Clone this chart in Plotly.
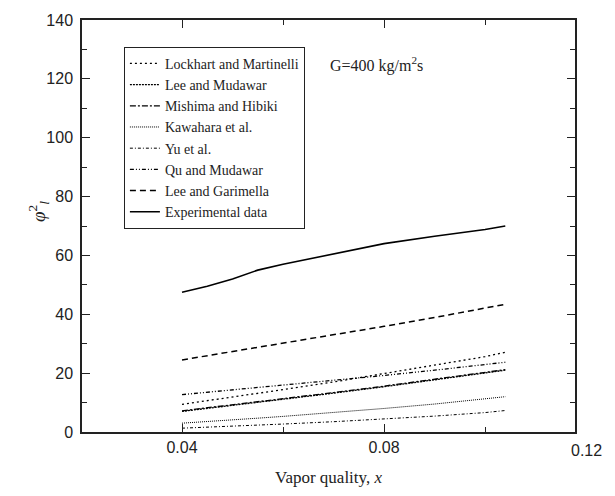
import plotly.graph_objects as go

x = [0.04, 0.045, 0.05, 0.055, 0.06, 0.07, 0.08, 0.09, 0.10, 0.104]

lockhart = [9.4, 10.6, 11.9, 13.1, 14.4, 17.0, 19.8, 22.6, 25.6, 27.1]
lee_mudawar = [7.0, 8.0, 9.0, 10.0, 11.0, 13.2, 15.4, 17.7, 20.0, 21.0]
mishima = [7.2, 8.2, 9.2, 10.2, 11.2, 13.4, 15.6, 17.9, 20.2, 21.2]
kawahara = [3.0, 3.5, 4.1, 4.7, 5.3, 6.6, 8.0, 9.5, 11.2, 12.0]
yu = [1.3, 1.6, 1.9, 2.3, 2.7, 3.5, 4.4, 5.4, 6.6, 7.3]
qu = [12.7, 13.5, 14.3, 15.1, 15.9, 17.5, 19.2, 21.0, 22.9, 23.7]
lee_garimella = [24.5, 25.9, 27.3, 28.7, 30.1, 33.0, 35.9, 38.9, 42.0, 43.4]
experimental = [47.5, 49.5, 52.0, 55.0, 57.0, 60.5, 64.0, 66.5, 68.8, 70.0]

names = ["Lockhart and Martinelli", "Lee and Mudawar", "Mishima and Hibiki",
         "Kawahara et al.", "Yu et al.", "Qu and Mudawar", "Lee and Garimella",
         "Experimental data"]
series = [lockhart, lee_mudawar, mishima, kawahara, yu, qu, lee_garimella, experimental]
dashes = ["2px,3px", "2px,1px", "6px,2px,2px,2px", "1px,1px",
          "3px,2px,1px,2px", "4px,2px,1px,2px,1px,2px", "6px,4px", "solid"]
widths = [1.3, 1.3, 1.3, 1.0, 1.0, 1.3, 1.5, 1.6]

xticks = [0.04, 0.08]
yticks = [0, 20, 40, 60, 80, 100, 120, 140]

fig = go.Figure()
for n, s, d, w in zip(names, series, dashes, widths):
    fig.add_trace(go.Scatter(x=x, y=s, mode="lines", name=n,
                             line=dict(color="black", width=w, dash=d)))

axis_common = dict(showline=True, linecolor="#222", linewidth=1.5, mirror="ticks",
                   ticks="inside", ticklen=8, tickwidth=1.2, tickcolor="#222",
                   showgrid=False, zeroline=False,
                   tickfont=dict(family="Liberation Sans, Arial", size=16, color="#222"))

fig.update_xaxes(range=[0.0202, 0.1178], tickvals=xticks,
                 ticktext=["0.04", "0.08"],
                 minor=dict(tickvals=[0.06, 0.10], ticklen=5, tickcolor="#222", ticks="inside"),
                 title=dict(text="Vapor quality, <i>x</i>",
                            font=dict(family="Liberation Serif, Times New Roman", size=17, color="#222"),
                            standoff=16),
                 **axis_common)
fig.update_yaxes(range=[0, 140], tickvals=yticks,
                 minor=dict(dtick=10, ticklen=5, tickcolor="#222", ticks="inside"),
                 ticklabelstandoff=4,
                 **axis_common)

fig.add_annotation(x=1.0225, y=0, xref="paper", yref="paper", text="0.12", showarrow=False,
                   xanchor="center", yanchor="top", yshift=-8,
                   font=dict(family="Liberation Sans, Arial", size=16, color="#222"))
fig.add_annotation(x=-0.12, y=0.535, xref="paper", yref="paper", textangle=-90,
                   text="<i>φ</i><sup>2</sup><sub><i>l</i></sub>", showarrow=False,
                   font=dict(family="Liberation Serif, Times New Roman", size=19, color="#222"))
fig.add_annotation(x=0.0785, y=125, xref="x", yref="y",
                   text="G=400 kg/m<sup>2</sup>s", showarrow=False,
                   font=dict(family="Liberation Serif, Times New Roman", size=16, color="#222"))

fig.update_layout(
    width=615, height=496,
    margin=dict(l=82, r=40, t=14, b=63),
    paper_bgcolor="white", plot_bgcolor="white",
    showlegend=True,
    legend=dict(x=0.085, y=0.935, xanchor="left", yanchor="top",
                bordercolor="#222", borderwidth=1, bgcolor="white",
                tracegroupgap=0, itemwidth=30,
                font=dict(family="Liberation Serif, Times New Roman", size=14, color="#222")),
)

fig.write_html("out.html")
